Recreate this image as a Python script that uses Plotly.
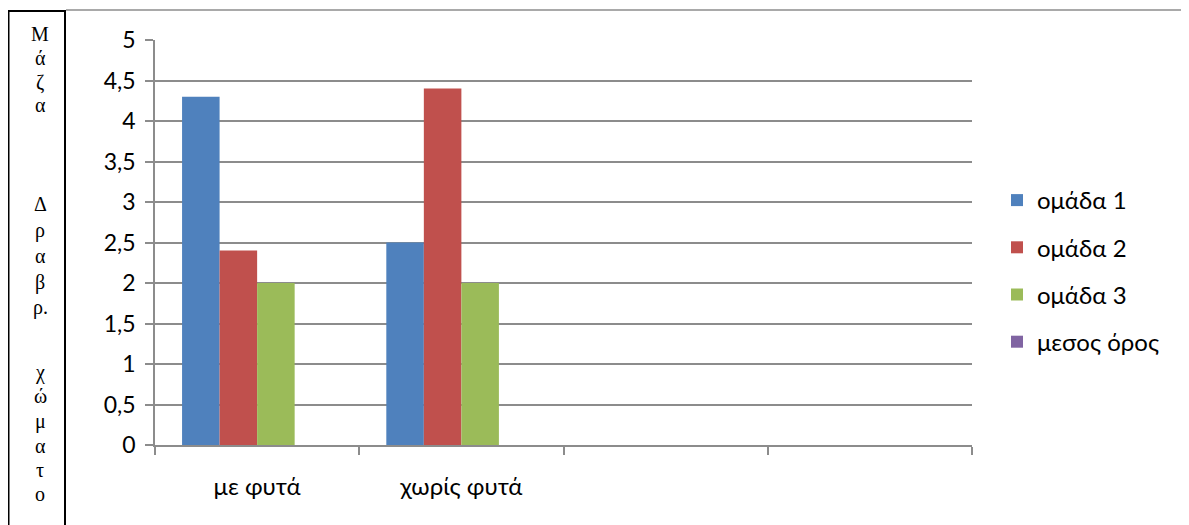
import plotly.graph_objects as go

categories = ["με φυτά", "χωρίς φυτά", "\u200b", "\u200b\u200b"]
series_names = ["ομάδα 1", "ομάδα 2", "ομάδα 3", "μεσος όρος"]
omada1 = [4.3, 2.5, None, None]
omada2 = [2.4, 4.4, None, None]
omada3 = [2.0, 2.0, None, None]
mesos = [None, None, None, None]
colors = ["#4F81BD", "#C0504D", "#9BBB59", "#8064A2"]
y_tickvals = [0, 0.5, 1, 1.5, 2, 2.5, 3, 3.5, 4, 4.5, 5]
y_ticktext = ["0", "0,5", "1", "1,5", "2", "2,5", "3", "3,5", "4", "4,5", "5"]
side_letters = ["Μ", "ά", "ζ", "α", "Δ", "ρ", "α", "β", "ρ.", "χ", "ώ", "μ", "α", "τ", "ο"]
side_letter_py = [34, 58, 82, 105, 204, 230, 256, 282, 308, 372, 396, 421, 446, 470, 494]

# page has an 8px body margin; work in page pixel coords and shift
OFF = 8
W, H = 1189 - OFF, 525 - OFF
L, R, T, B = 155 - OFF, 972 - OFF, 40 - OFF, 445 - OFF

def px2x(px):
    return (px - OFF - L) / (R - L)

def py2y(py):
    return (B - (py - OFF)) / (B - T)

fig = go.Figure()
for name, vals, col in zip(series_names, [omada1, omada2, omada3, mesos], colors):
    fig.add_trace(go.Bar(x=categories, y=vals, name=name, marker_color=col,
                         marker_line_width=0, legendgroup=name))

font_main = "Lato, 'Open Sans', sans-serif"
grid_col = "#8c8c8c"

annotations = []
for ch, py in zip(side_letters, side_letter_py):
    annotations.append(dict(text=ch, x=px2x(40), y=py2y(py), xref="paper", yref="paper",
                            xanchor="center", yanchor="middle", showarrow=False,
                            font=dict(family="Liberation Serif, serif", size=20, color="#000")))

shapes = [
    dict(type="rect", xref="paper", yref="paper", x0=px2x(8.5), x1=px2x(65),
         y0=py2y(540), y1=py2y(11), line=dict(color="#000", width=2), fillcolor="rgba(0,0,0,0)"),
    dict(type="line", xref="paper", yref="paper", x0=px2x(66), x1=px2x(1189),
         y0=py2y(10), y1=py2y(10), line=dict(color=grid_col, width=1.5)),
]

fig.update_layout(
    width=W, height=H,
    margin=dict(l=L, r=W - R, t=T, b=H - B, pad=0),
    paper_bgcolor="white", plot_bgcolor="white",
    barmode="group", bargap=0.265, bargroupgap=0,
    font=dict(family=font_main, size=22, color="#000"),
    showlegend=True,
    legend=dict(x=px2x(997), y=py2y(178), xanchor="left", yanchor="top",
                font=dict(size=24, family=font_main), tracegroupgap=13,
                traceorder="grouped", bgcolor="rgba(0,0,0,0)"),
    annotations=annotations,
    shapes=shapes,
)
fig.update_xaxes(type="category", range=[-0.5, 3.5], tickson="boundaries",
                 ticks="outside", ticklen=8, tickwidth=1.5, tickcolor=grid_col,
                 showline=True, linecolor=grid_col, linewidth=1.5,
                 showgrid=False, ticklabelstandoff=19,
                 tickfont=dict(size=24, family=font_main))
fig.update_yaxes(range=[0, 5], tickvals=y_tickvals, ticktext=y_ticktext,
                 ticks="outside", ticklen=8, tickwidth=1.5, tickcolor=grid_col,
                 showline=True, linecolor=grid_col, linewidth=1.5,
                 showgrid=True, gridcolor=grid_col, gridwidth=1.5,
                 zeroline=False, ticklabelstandoff=5,
                 tickfont=dict(size=23, family=font_main))

fig.write_html("out.html")
